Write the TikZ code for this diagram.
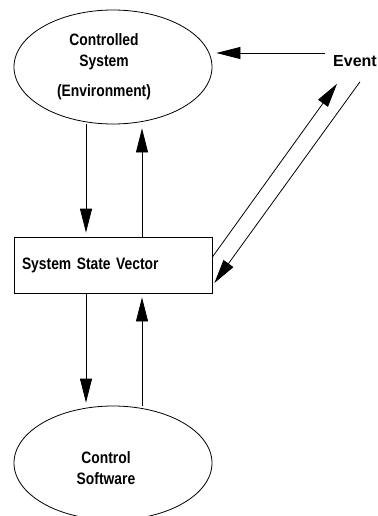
\documentclass[tikz,border=0pt]{standalone}
\usepackage{fontspec}
\setmainfont{Liberation Sans}
\newfontfamily\narrowsans[FakeStretch=0.84]{Liberation Sans}
\usetikzlibrary{shapes.geometric,arrows.meta}
\tikzset{
    world/.style = {ellipse, draw=black, line width=0.8pt, minimum width=198pt, minimum height=114pt, inner sep=0pt, font=\narrowsans\fontsize{16.5}{21}\selectfont\bfseries},
    statebox/.style = {rectangle, draw=black, line width=0.8pt, minimum height=56pt, text width=182pt, inner xsep=8pt, inner ysep=0pt, align=left, font=\narrowsans\fontsize{16.5}{20}\selectfont\bfseries},
    eventlabel/.style = {inner sep=0pt, font=\fontsize{16}{19}\selectfont\bfseries},
    arrow/.style = {line width=0.8pt, -{Triangle[length=24pt,width=12pt]}}
}
\begin{document}
\begin{tikzpicture}[x=1pt, y=-1pt, node distance=198pt]
\useasboundingbox (0,0) rectangle (377,516);
\node (ctrl) [world] at (113,67) {\begin{tabular}{@{}c@{}}Controlled\\System\\[9pt](Environment)\end{tabular}\hspace*{18pt}};
\node (state) [statebox, below of=ctrl] {System State Vector};
\node (soft) [world, below of=state] {\raisebox{-11pt}[0pt][0pt]{\begin{tabular}{@{}c@{}}Control\\Software\end{tabular}}\hspace*{14pt}};
\node (event) [eventlabel] at (355,61) {Event};

\draw [arrow, shorten >=4pt] ([xshift=-27pt]ctrl.south) -- ([xshift=-27pt]state.north);
\draw [arrow, shorten >=4pt] ([xshift=29pt]state.north) -- ([xshift=29pt]ctrl.south);
\draw [arrow, shorten >=3pt] ([xshift=-27pt]state.south) -- ([xshift=-27pt]soft.north);
\draw [arrow, shorten >=4pt] ([xshift=29pt]soft.north) -- ([xshift=29pt]state.south);
\draw [arrow, shorten >=4pt] ([xshift=-8pt,yshift=8pt]event.west) -- ([yshift=14pt]ctrl.east);
\draw [arrow] ([yshift=8pt]state.east) -- ([xshift=-18pt,yshift=-17pt]event.south);
\draw [arrow] ([xshift=5pt,yshift=-15pt]event.south) -- ([xshift=2pt,yshift=-18pt]state.east);
\end{tikzpicture}
\end{document}
